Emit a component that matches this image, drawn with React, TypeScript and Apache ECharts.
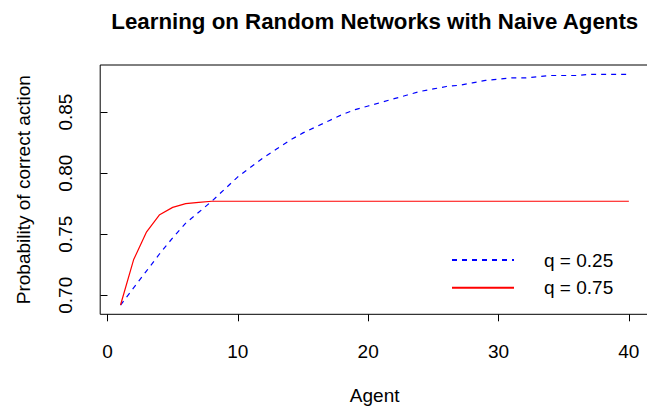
import React, { useEffect, useRef } from "react";
import * as echarts from "echarts";

const agents = [
  1, 2, 3, 4, 5, 6, 7, 8, 9, 10, 11, 12, 13, 14, 15, 16, 17, 18, 19, 20,
  21, 22, 23, 24, 25, 26, 27, 28, 29, 30, 31, 32, 33, 34, 35, 36, 37, 38, 39, 40,
];

const q25 = [
  0.692, 0.706, 0.720, 0.734, 0.747, 0.759, 0.768, 0.777, 0.787, 0.797,
  0.805, 0.813, 0.820, 0.827, 0.833, 0.838, 0.843, 0.848, 0.852, 0.855,
  0.858, 0.861, 0.864, 0.867, 0.869, 0.871, 0.872, 0.874, 0.876, 0.877,
  0.878, 0.878, 0.879, 0.880, 0.880, 0.880, 0.881, 0.881, 0.881, 0.881,
];

const q75 = [
  0.692, 0.729, 0.752, 0.766, 0.772, 0.775, 0.776, 0.777, 0.777, 0.777,
  0.777, 0.777, 0.777, 0.777, 0.777, 0.777, 0.777, 0.777, 0.777, 0.777,
  0.777, 0.777, 0.777, 0.777, 0.777, 0.777, 0.777, 0.777, 0.777, 0.777,
  0.777, 0.777, 0.777, 0.777, 0.777, 0.777, 0.777, 0.777, 0.777, 0.777,
];

const xTicks = [0, 10, 20, 30, 40];
const yTicks = [0.7, 0.75, 0.8, 0.85];

const seriesNames = ["q = 0.25", "q = 0.75"];

const FONT = "'Liberation Sans', Arial, Helvetica, sans-serif";
const FS = 19;

export default function App() {
  const ref = useRef<HTMLDivElement>(null);

  useEffect(() => {
    if (!ref.current) return;
    const chart = echarts.init(ref.current, null, { renderer: "svg" });

    const pairs = (ys: number[]) => agents.map((a, i) => [a, ys[i]]);

    chart.setOption({
      animation: false,
      backgroundColor: "#ffffff",
      title: {
        text: "Learning on Random Networks with Naive Agents",
        left: 374.8,
        top: 10.5,
        padding: 0,
        textAlign: "center",
        textStyle: {
          fontFamily: FONT,
          fontSize: 22.3,
          fontWeight: "bold",
          color: "#000",
        },
      },
      grid: {
        left: 100.2,
        top: 65,
        width: 549,
        height: 249.3,
        show: true,
        borderColor: "#000",
        borderWidth: 1,
        backgroundColor: "transparent",
        containLabel: false,
        outerBoundsMode: "none",
      },
      xAxis: {
        type: "value",
        min: -0.56,
        max: 41.56,
        name: "Agent",
        nameLocation: "middle",
        nameGap: 72,
        nameTextStyle: { fontFamily: FONT, fontSize: FS, color: "#000" },
        axisLine: { show: false },
        splitLine: { show: false },
        axisTick: {
          show: true,
          customValues: xTicks,
          length: 7,
          inside: false,
          lineStyle: { color: "#000", width: 1 },
        },
        axisLabel: {
          customValues: xTicks,
          margin: 28,
          fontFamily: FONT,
          fontSize: FS,
          color: "#000",
        },
      },
      yAxis: {
        type: "value",
        min: 0.6844,
        max: 0.8886,
        name: "Probability of correct action",
        nameLocation: "middle",
        nameGap: 67,
        nameTextStyle: { fontFamily: FONT, fontSize: FS, color: "#000" },
        axisLine: { show: false },
        splitLine: { show: false },
        axisTick: {
          show: true,
          customValues: yTicks,
          length: 7,
          inside: false,
          lineStyle: { color: "#000", width: 1 },
        },
        axisLabel: {
          customValues: yTicks,
          rotate: 90,
          margin: 25,
          fontFamily: FONT,
          fontSize: FS,
          color: "#000",
          formatter: (v: number) => v.toFixed(2),
        },
      },
      legend: {
        show: true,
        orient: "vertical",
        left: 451,
        top: 250.5,
        itemWidth: 62,
        itemHeight: 19,
        itemGap: 8.7,
        padding: 0,
        data: seriesNames,
        itemStyle: { opacity: 0 },
        textStyle: {
          fontFamily: FONT,
          fontSize: FS,
          color: "#000",
          rich: {
            g: { width: 25 },
            t: { fontFamily: FONT, fontSize: FS, color: "#000" },
          },
        },
        formatter: (name: string) => `{g|}{t|${name}}`,
      },
      series: [
        {
          name: seriesNames[0],
          type: "line",
          data: pairs(q25),
          symbol: "none",
          lineStyle: { color: "#0000ff", width: 1.2, type: [5, 5] },
          itemStyle: { color: "#0000ff" },
        },
        {
          name: seriesNames[1],
          type: "line",
          data: pairs(q75),
          symbol: "none",
          lineStyle: { color: "#ff0000", width: 1.2, type: "solid" },
          itemStyle: { color: "#ff0000" },
        },
      ],
    });

    return () => chart.dispose();
  }, []);

  return (
    <div
      ref={ref}
      style={{ position: "fixed", left: 0, top: 0, width: 647, height: 406 }}
    />
  );
}
